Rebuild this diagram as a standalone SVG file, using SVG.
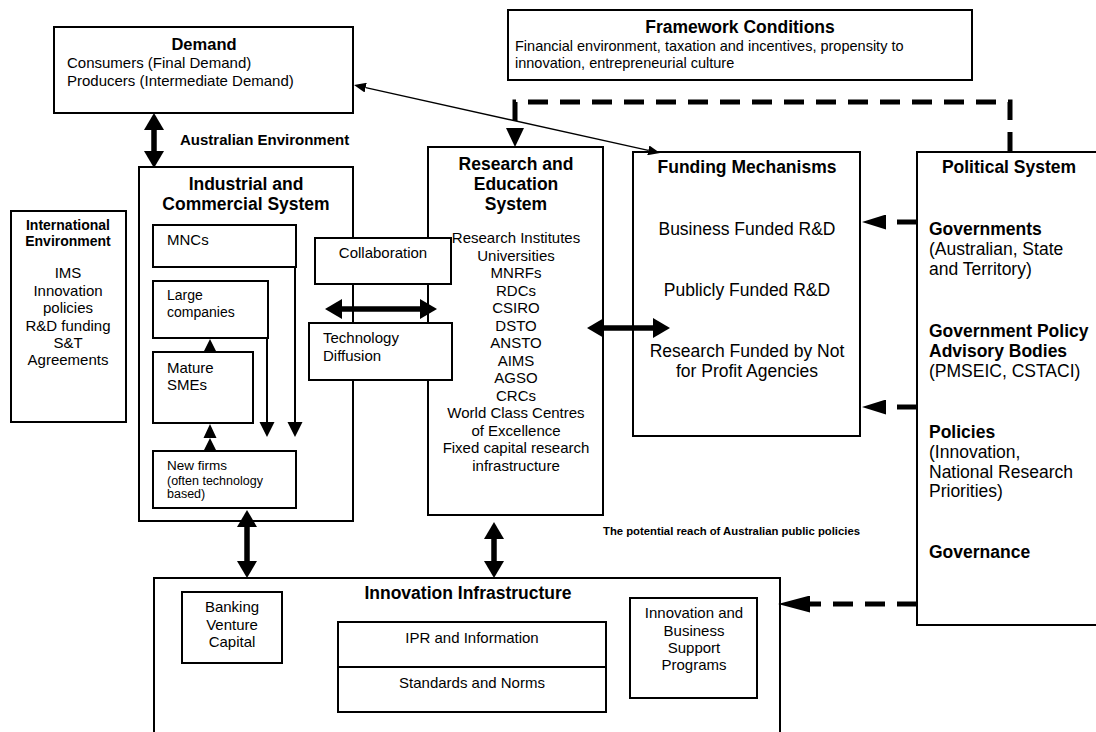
<svg xmlns="http://www.w3.org/2000/svg" width="1096" height="732" viewBox="0 0 1096 732">
<style>
text{font-family:"Liberation Sans",Arial,sans-serif;fill:#000}
.b{font-weight:bold}
.c{text-anchor:middle}
.box{fill:#fff;stroke:#000;stroke-width:2}
.open{fill:none;stroke:#000;stroke-width:2}
.thick{stroke:#000;stroke-width:5.5;fill:none}
.thin{stroke:#000;stroke-width:1.4;fill:none}
.dash{stroke:#000;stroke-width:5;fill:none;stroke-dasharray:20 12}
.small{stroke:#000;stroke-width:2;fill:none}
.head{fill:#000}
.f15{font-size:15px}
.f175{font-size:17.5px}
</style>
<defs>
<marker id="mThick" markerUnits="userSpaceOnUse" markerWidth="18" markerHeight="20" refX="0" refY="10" orient="auto-start-reverse"><path d="M0,0 L17,10 L0,20 z" fill="#000"/></marker>
<marker id="mThin" markerUnits="userSpaceOnUse" markerWidth="13" markerHeight="10" refX="0" refY="5" orient="auto-start-reverse"><path d="M0,0 L12,5 L0,10 z" fill="#000"/></marker>
<marker id="mDash" markerUnits="userSpaceOnUse" markerWidth="25" markerHeight="15" refX="0" refY="7.5" orient="auto"><path d="M0,0 L24,7.5 L0,15 z" fill="#000"/></marker>
<marker id="mDashBig" markerUnits="userSpaceOnUse" markerWidth="33" markerHeight="17" refX="0" refY="8.5" orient="auto"><path d="M0,0 L32,8.5 L0,17 z" fill="#000"/></marker>
<marker id="mTop" markerUnits="userSpaceOnUse" markerWidth="20" markerHeight="18" refX="0" refY="9" orient="auto"><path d="M0,0 L19,9 L0,18 z" fill="#000"/></marker>
</defs>

<g id="demand">
<rect class="box" x="54" y="27" width="299" height="86"/>
<text class="b c" x="204" y="50" font-size="16.5">Demand</text>
<text class="f15" x="67" y="68">Consumers (Final Demand)</text>
<text class="f15" x="67" y="86">Producers (Intermediate Demand)</text>
</g>

<g id="framework">
<rect class="box" x="508" y="10" width="464" height="70"/>
<text class="b c f175" x="740" y="33">Framework Conditions</text>
<text x="515" y="51" font-size="14.5">Financial environment, taxation and incentives, propensity to</text>
<text x="515" y="68" font-size="14.5">innovation, entrepreneurial culture</text>
</g>

<g id="australian-environment">
<text class="b f15" x="180" y="145">Australian Environment</text>
</g>

<g id="international">
<rect class="box" x="11" y="211" width="115" height="211"/>
<text class="b c" x="68" y="230" font-size="14">International</text>
<text class="b c" x="68" y="246" font-size="14">Environment</text>
<text class="c f15" x="68" y="278">IMS</text>
<text class="c f15" x="68" y="295.5">Innovation</text>
<text class="c f15" x="68" y="313">policies</text>
<text class="c f15" x="68" y="330.5">R&amp;D funding</text>
<text class="c f15" x="68" y="348">S&amp;T</text>
<text class="c f15" x="68" y="365">Agreements</text>
</g>

<g id="industrial">
<rect class="box" x="139" y="167" width="214" height="354"/>
<text class="b c f175" x="246" y="190">Industrial and</text>
<text class="b c f175" x="246" y="210">Commercial System</text>
</g>

<g id="mncs">
<rect class="box" x="153" y="225" width="143" height="42"/>
<text class="f15" x="167" y="245">MNCs</text>
</g>

<g id="large-companies">
<rect class="box" x="153" y="281" width="115" height="57"/>
<text x="167" y="300" font-size="14">Large</text>
<text x="167" y="317" font-size="14">companies</text>
</g>

<g id="mature-smes">
<rect class="box" x="153" y="352" width="100" height="71"/>
<text class="f15" x="167" y="373">Mature</text>
<text class="f15" x="167" y="390">SMEs</text>
</g>

<g id="new-firms">
<rect class="box" x="153" y="451" width="143" height="57"/>
<text x="167" y="470" font-size="13.5">New firms</text>
<text x="167" y="485" font-size="12.5">(often technology</text>
<text x="167" y="498" font-size="12.5">based)</text>
</g>

<g id="research">
<rect class="box" x="428" y="147" width="175" height="368"/>
<text class="b c f175" x="516" y="170">Research and</text>
<text class="b c f175" x="516" y="190">Education</text>
<text class="b c f175" x="516" y="210">System</text>
<text class="c f15" x="516" y="243">Research Institutes</text>
<text class="c f15" x="516" y="260.5">Universities</text>
<text class="c f15" x="516" y="278">MNRFs</text>
<text class="c f15" x="516" y="295.5">RDCs</text>
<text class="c f15" x="516" y="313">CSIRO</text>
<text class="c f15" x="516" y="330.5">DSTO</text>
<text class="c f15" x="516" y="348">ANSTO</text>
<text class="c f15" x="516" y="365.5">AIMS</text>
<text class="c f15" x="516" y="383">AGSO</text>
<text class="c f15" x="516" y="400.5">CRCs</text>
<text class="c f15" x="516" y="418">World Class Centres</text>
<text class="c f15" x="516" y="435.5">of Excellence</text>
<text class="c f15" x="516" y="453">Fixed capital research</text>
<text class="c f15" x="516" y="470.5">infrastructure</text>
</g>

<g id="collaboration">
<rect class="box" x="315" y="238" width="136" height="46"/>
<text class="c f15" x="383" y="258">Collaboration</text>
</g>

<g id="technology-diffusion">
<rect class="box" x="309" y="323" width="143" height="57"/>
<text class="f15" x="323" y="343">Technology</text>
<text class="f15" x="323" y="361">Diffusion</text>
</g>

<g id="funding">
<rect class="box" x="633" y="152" width="227" height="284"/>
<text class="b c f175" x="747" y="173">Funding Mechanisms</text>
<text class="c f175" x="747" y="235">Business Funded R&amp;D</text>
<text class="c f175" x="747" y="296">Publicly Funded R&amp;D</text>
<text class="c f175" x="747" y="357">Research Funded by Not</text>
<text class="c f175" x="747" y="377">for Profit Agencies</text>
</g>

<g id="political">
<rect class="box" x="917" y="152" width="190" height="473"/>
<text class="b c f175" x="1009" y="173">Political System</text>
<text class="b f175" x="929" y="235">Governments</text>
<text class="f175" x="929" y="255">(Australian, State</text>
<text class="f175" x="929" y="275">and Territory)</text>
<text class="b f175" x="929" y="337">Government Policy</text>
<text class="b f175" x="929" y="357">Advisory Bodies</text>
<text class="f175" x="929" y="377">(PMSEIC, CSTACI)</text>
<text class="b f175" x="929" y="438">Policies</text>
<text class="f175" x="929" y="458">(Innovation,</text>
<text class="f175" x="929" y="477.5">National Research</text>
<text class="f175" x="929" y="497">Priorities)</text>
<text class="b f175" x="929" y="558">Governance</text>
</g>

<g id="reach-label">
<text class="b" x="603" y="535" font-size="11.3">The potential reach of Australian public policies</text>
</g>

<g id="innovation-infrastructure">
<path class="open" d="M154,732 L154,578 L780,578 L780,732"/>
<text class="b c f175" x="468" y="599">Innovation Infrastructure</text>
</g>

<g id="banking">
<rect class="box" x="182" y="592" width="100" height="71"/>
<text class="c f15" x="232" y="612">Banking</text>
<text class="c f15" x="232" y="629.5">Venture</text>
<text class="c f15" x="232" y="647">Capital</text>
</g>

<g id="ipr-standards">
<rect class="box" x="338" y="622" width="268" height="90"/>
<line class="open" x1="338" y1="667" x2="606" y2="667"/>
<text class="c f15" x="472" y="643">IPR and Information</text>
<text class="c f15" x="472" y="688">Standards and Norms</text>
</g>

<g id="support-programs">
<rect class="box" x="630" y="598" width="127" height="100"/>
<text class="c f15" x="694" y="618">Innovation and</text>
<text class="c f15" x="694" y="635.5">Business</text>
<text class="c f15" x="694" y="653">Support</text>
<text class="c f15" x="694" y="670">Programs</text>
</g>

<g id="connectors">
<line class="thick" x1="154" y1="130" x2="154" y2="151" marker-start="url(#mThick)" marker-end="url(#mThick)"/>
<line class="thick" x1="342" y1="309" x2="420" y2="309" marker-start="url(#mThick)" marker-end="url(#mThick)"/>
<line class="thick" x1="604" y1="328" x2="653" y2="328" marker-start="url(#mThick)" marker-end="url(#mThick)"/>
<line class="thick" x1="247" y1="527" x2="247" y2="561" marker-start="url(#mThick)" marker-end="url(#mThick)"/>
<line class="thick" x1="494" y1="539" x2="494" y2="561" marker-start="url(#mThick)" marker-end="url(#mThick)"/>
<line class="thin" x1="365.7" y1="87.6" x2="648.3" y2="150.4" marker-start="url(#mThin)" marker-end="url(#mThin)"/>
<path class="dash" d="M1010,152 L1010,102 L515,102 L515,128" marker-end="url(#mTop)"/>
<line class="dash" x1="917" y1="222" x2="886" y2="222" marker-end="url(#mDash)"/>
<line class="dash" x1="917" y1="407" x2="886" y2="407" marker-end="url(#mDash)"/>
<line class="dash" x1="917" y1="604" x2="810" y2="604" marker-end="url(#mDashBig)"/>
<path class="head" d="M203.5,352 L210,339 L216.5,352 z M203.5,438 L210,424 L216.5,438 z M203.5,451 L210,438 L216.5,451 z"/>
<line class="small" x1="267" y1="338" x2="267" y2="422"/>
<line class="small" x1="295" y1="267" x2="295" y2="422"/>
<path class="head" d="M259.5,422 L267,437 L274.5,422 z M287.5,422 L295,437 L302.5,422 z"/>
</g>
</svg>
